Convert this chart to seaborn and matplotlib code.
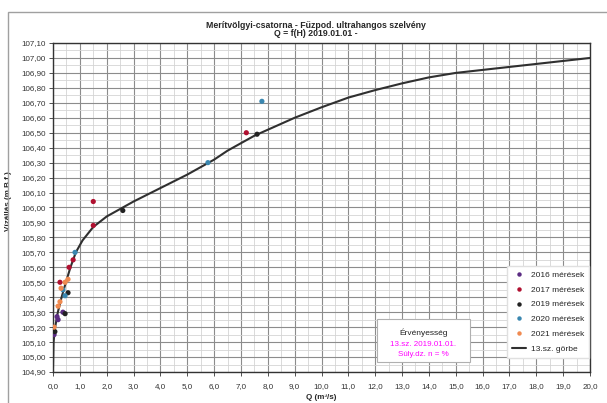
import matplotlib
matplotlib.use("Agg")
import matplotlib.pyplot as plt
import numpy as np
import pandas as pd
import seaborn as sns
from matplotlib.ticker import MultipleLocator, FuncFormatter
from matplotlib.patches import Rectangle
from matplotlib.lines import Line2D

# Rating curve No. 13 (discharge Q in m3/s, stage H in m B.f.)
curve_q = [0.0, 0.02, 0.08, 0.18, 0.32, 0.48, 0.65, 0.85, 1.1, 1.5, 2.0, 2.6, 3.0,
           4.0, 5.0, 6.0, 6.5, 7.0, 7.5, 8.0, 9.0, 10.0, 11.0, 12.0, 13.0, 14.0,
           15.0, 16.0, 17.0, 18.0, 19.0, 20.0]
curve_h = [104.93, 105.10, 105.20, 105.30, 105.40, 105.50, 105.60, 105.70, 105.78,
           105.87, 105.94, 106.00, 106.04, 106.13, 106.22, 106.32, 106.38, 106.43,
           106.48, 106.52, 106.60, 106.67, 106.735, 106.785, 106.83, 106.87, 106.90,
           106.92, 106.94, 106.96, 106.98, 107.00]

# Field measurements by year
q_2016 = [0.37, 0.15, 0.19, 0.04]
h_2016 = [105.30, 105.27, 105.25, 105.15]
q_2017 = [0.26, 1.5, 1.5, 7.2, 0.75, 0.60]
h_2017 = [105.50, 106.04, 105.88, 106.50, 105.65, 105.60]
q_2019 = [0.56, 0.45, 0.07, 2.6, 7.6]
h_2019 = [105.43, 105.29, 105.17, 105.98, 106.49]
q_2020 = [0.37, 0.45, 0.82, 5.77, 7.78]
h_2020 = [105.45, 105.41, 105.70, 106.30, 106.71]
q_2021 = [0.45, 0.56, 0.26, 0.19, 0.04, 0.30]
h_2021 = [105.50, 105.52, 105.37, 105.34, 105.20, 105.46]

series_labels = ["2016 mérések", "2017 mérések", "2019 mérések", "2020 mérések", "2021 mérések"]
series_colors = ["#5B2C83", "#B01030", "#222222", "#3A87B0", "#F08A50"]
curve_label = "13.sz. görbe"

title = "Merítvölgyi-csatorna - Fűzpod. ultrahangos szelvény"
subtitle = "Q = f(H) 2019.01.01 -"
x_label = "Q (m³/s)"
y_label = "Vízállás (m B.f.)"
box_lines = ["Érvényesség", "13.sz. 2019.01.01.", "Súly.dz. n = %"]

meas = pd.concat([
    pd.DataFrame({"Q": q, "H": h, "sorozat": lab})
    for q, h, lab in zip([q_2016, q_2017, q_2019, q_2020, q_2021],
                         [h_2016, h_2017, h_2019, h_2020, h_2021],
                         series_labels)
], ignore_index=True)
curve = pd.DataFrame({"Q": curve_q, "H": curve_h})

sns.set_theme(style="white")
plt.rcParams["font.family"] = ["Liberation Sans", "DejaVu Sans"]

fig = plt.figure(figsize=(6.07, 4.03), dpi=100)
ax = fig.add_axes([53 / 607, 1 - 372 / 403, 537 / 607, 329 / 403])

# outer chart frame
fig.patches.append(Rectangle((8 / 607, -0.1), 1.2, 1 - 12 / 403 + 0.1,
                             transform=fig.transFigure, fill=False,
                             edgecolor="#a0a0a0", linewidth=1.0, zorder=0))

ax.set_xlim(0, 20)
ax.set_ylim(104.90, 107.10)
ax.xaxis.set_major_locator(MultipleLocator(1.0))
ax.xaxis.set_minor_locator(MultipleLocator(0.5))
ax.yaxis.set_major_locator(MultipleLocator(0.1))
ax.yaxis.set_minor_locator(MultipleLocator(0.05))
ax.xaxis.set_major_formatter(FuncFormatter(lambda v, p: f"{v:.1f}".replace(".", ",")))
ax.yaxis.set_major_formatter(FuncFormatter(lambda v, p: f"{v:.2f}".replace(".", ",")))
ax.grid(which="major", color="#8c8c8c", linewidth=0.8)
ax.grid(which="minor", color="#d4d4d4", linewidth=0.6)
ax.set_axisbelow(True)
for s in ax.spines.values():
    s.set_color("#333333")
    s.set_linewidth(1.0)
ax.tick_params(which="major", labelsize=5.8, length=3, width=0.6, pad=2,
               colors="#333333", left=True, bottom=True)
ax.tick_params(axis="x", pad=5)
ax.tick_params(which="minor", length=0)

sns.lineplot(data=curve, x="Q", y="H", ax=ax, color="#303030", linewidth=1.5,
             sort=False, estimator=None, zorder=3, legend=False)
sns.scatterplot(data=meas, x="Q", y="H", hue="sorozat", hue_order=series_labels,
                palette=series_colors, s=14, edgecolor="none", ax=ax, zorder=4,
                legend=False)

ax.set_xlabel(x_label, fontsize=5.8, fontweight="bold", labelpad=4)
ax.set_ylabel(y_label, fontsize=5.8, fontweight="bold")
ax.xaxis.set_label_coords(0.50, -0.068)
ax.yaxis.set_label_coords(-0.077, 0.52)

fig.text(316 / 607, 1 - 25 / 403, title, ha="center", va="center",
         fontsize=6.3, fontweight="bold")
fig.text(316 / 607, 1 - 34 / 403, subtitle, ha="center", va="center",
         fontsize=6.3, fontweight="bold")

handles = [Line2D([], [], linestyle="none", marker="o", markersize=3.2,
                  markerfacecolor=c, markeredgecolor="none") for c in series_colors]
handles.append(Line2D([], [], color="#303030", linewidth=1.5))
leg = ax.legend(handles, series_labels + [curve_label], loc="lower right",
                bbox_to_anchor=(0.998, 0.042), fontsize=6, frameon=True,
                fancybox=False, framealpha=1, edgecolor="#e0e0e0",
                labelspacing=0.85, handlelength=1.6, handletextpad=0.6,
                borderpad=0.6, borderaxespad=0)
leg.set_zorder(6)

# validity box
ax.add_patch(Rectangle((0.603, 0.030), 0.174, 0.131, transform=ax.transAxes,
                       facecolor="white", edgecolor="#b0b0b0", linewidth=0.8,
                       zorder=6))
ax.text(0.69, 0.1185, box_lines[0], transform=ax.transAxes, ha="center",
        va="center", fontsize=6, color="#222222", zorder=7)
ax.text(0.69, 0.085, box_lines[1], transform=ax.transAxes, ha="center",
        va="center", fontsize=5.8, color="#ff00ff", zorder=7)
ax.text(0.69, 0.052, box_lines[2], transform=ax.transAxes, ha="center",
        va="center", fontsize=5.8, color="#ff00ff", zorder=7)

fig.savefig("out.png", dpi=100)
